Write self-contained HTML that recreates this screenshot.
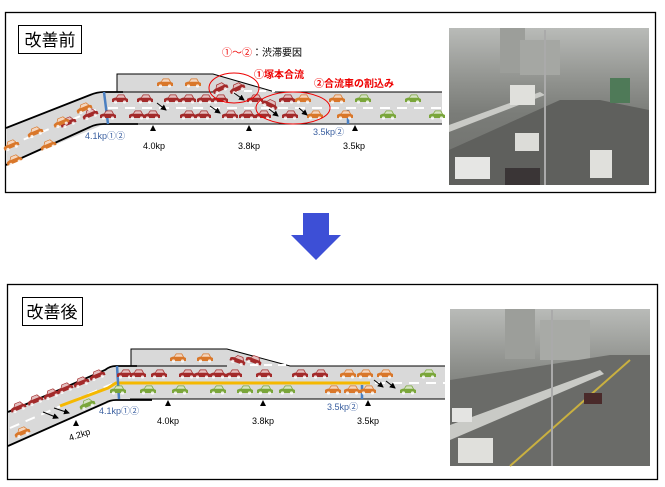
<!DOCTYPE html>
<html><head><meta charset="utf-8"><style>
body{margin:0;background:#fff;width:665px;height:487px;overflow:hidden}
svg{display:block}
text{font-family:"Liberation Sans","Noto Sans CJK JP",sans-serif}
</style></head><body>
<svg width="665" height="487" viewBox="0 0 665 487" xmlns="http://www.w3.org/2000/svg">
<defs>
<symbol id="c" viewBox="-8 -5 16 10" overflow="visible">
<path d="M-8 3 L-8 0 Q-7 -1 -4 -1.5 L-2 -4.5 L4 -4.5 L6 -1 L8 0 L8 3 Z"/>
<path d="M-1.5 -3.8 L3.5 -3.8 L5 -1.2 L-3.5 -1.2 Z" fill="#fff" opacity=".7"/>
<circle cx="-4.5" cy="3" r="1.6" fill="#fff" opacity=".8"/><circle cx="4.5" cy="3" r="1.6" fill="#fff" opacity=".8"/>
</symbol>
<linearGradient id="ph" x1="0" y1="0" x2="0" y2="1">
<stop offset="0" stop-color="#b9bbb8"/><stop offset=".35" stop-color="#8f918d"/><stop offset=".55" stop-color="#7a7c78"/><stop offset="1" stop-color="#6d6e6b"/></linearGradient>
<marker id="ah" markerWidth="6" markerHeight="6" refX="5" refY="3" orient="auto"><path d="M0 0 L6 3 L0 6Z" fill="#000"/></marker>
</defs>

<!-- TOP BOX -->
<rect x="5.5" y="12.5" width="650" height="180" fill="#fff" stroke="#000" stroke-width="1.3"/>
<rect x="18.5" y="25.5" width="63" height="28" fill="#fff" stroke="#000"/>
<text x="50" y="46" font-size="17" text-anchor="middle">改善前</text>

<!-- photo top -->
<rect x="449" y="28" width="200" height="157" fill="url(#ph)"/>
<rect x="500" y="28" width="25" height="45" fill="#9c9e9a"/><rect x="520" y="40" width="40" height="35" fill="#a5a7a3"/>
<polygon points="449,150 560,100 600,100 649,110 649,185 449,185" fill="#5f605d"/>
<polygon points="449,125 540,92 545,95 449,132" fill="#c9cac6"/>
<rect x="510" y="85" width="25" height="20" fill="#e0e0dc"/>
<rect x="455" y="157" width="35" height="22" fill="#e6e6e4"/><rect x="515" y="133" width="24" height="18" fill="#dcdcd8"/>
<rect x="590" y="150" width="22" height="28" fill="#e0e0dc"/><rect x="610" y="78" width="20" height="25" fill="#4f7a58"/>
<rect x="505" y="168" width="35" height="17" fill="#3a3536"/>
<line x1="545" y1="30" x2="545" y2="185" stroke="#aaa" stroke-width="2"/>

<!-- top road -->
<polygon points="117,74 213,74 275,92 442,92 442,124 138,124 105,124 6,165 6,128 100,92 117,92" fill="#d9d9d9"/>
<polyline points="117,92 117,74 213,74 275,92 442,92" fill="none" stroke="#000" stroke-width="1"/>
<line x1="117" y1="92" x2="213" y2="92" stroke="#000" stroke-width="1"/>
<path d="M6 128 L90 95 Q97 92 104 92 L123 92" fill="none" stroke="#000" stroke-width="1.8"/>
<path d="M6 165 L90 127 Q96 124 104 124 L138 124" fill="none" stroke="#000" stroke-width="1.8"/>
<line x1="117" y1="124" x2="442" y2="124" stroke="#000" stroke-width="1"/>
<line x1="108" y1="108" x2="442" y2="108" stroke="#fff" stroke-width="2" stroke-dasharray="10,7"/>
<line x1="8" y1="146" x2="100" y2="108" stroke="#fff" stroke-width="2" stroke-dasharray="10,7"/>
<line x1="230" y1="91" x2="275" y2="91" stroke="#fff" stroke-width="2" stroke-dasharray="8,6"/>
<line x1="104" y1="92" x2="108" y2="124" stroke="#4a7fc1" stroke-width="2.5"/>
<line x1="348" y1="110" x2="348" y2="124" stroke="#4a7fc1" stroke-width="2.5"/>

<g fill="#a32a2a">
<use href="#c" x="112" y="94" width="16" height="10"/><use href="#c" x="137" y="94" width="16" height="10"/><use href="#c" x="164" y="94" width="16" height="10"/><use href="#c" x="180" y="94" width="16" height="10"/><use href="#c" x="197" y="94" width="16" height="10"/><use href="#c" x="212" y="94" width="16" height="10"/><use href="#c" x="247" y="94" width="16" height="10"/><use href="#c" x="279" y="94" width="16" height="10"/>
<use href="#c" x="100" y="110" width="16" height="10"/><use href="#c" x="129" y="110" width="16" height="10"/><use href="#c" x="144" y="110" width="16" height="10"/><use href="#c" x="180" y="110" width="16" height="10"/><use href="#c" x="195" y="110" width="16" height="10"/><use href="#c" x="222" y="110" width="16" height="10"/><use href="#c" x="239" y="110" width="16" height="10"/><use href="#c" x="255" y="110" width="16" height="10"/><use href="#c" x="282" y="110" width="16" height="10"/>
<use href="#c" x="212" y="83" width="16" height="10" transform="rotate(-25 220 88)"/><use href="#c" x="229" y="83" width="16" height="10" transform="rotate(-25 237 88)"/><use href="#c" x="262" y="99" width="16" height="10" transform="rotate(25 270 104)"/>
<use href="#c" x="60" y="117" width="16" height="10" transform="rotate(-22 68 122)"/><use href="#c" x="82" y="109" width="16" height="10" transform="rotate(-22 90 114)"/>
</g>
<g fill="#d9772a">
<use href="#c" x="157" y="78" width="16" height="10"/><use href="#c" x="185" y="78" width="16" height="10"/>
<use href="#c" x="295" y="94" width="16" height="10"/><use href="#c" x="329" y="94" width="16" height="10"/>
<use href="#c" x="307" y="110" width="16" height="10"/><use href="#c" x="337" y="110" width="16" height="10"/>
<use href="#c" x="3" y="140" width="16" height="10" transform="rotate(-22 11 145)"/><use href="#c" x="27" y="127" width="16" height="10" transform="rotate(-22 35 132)"/><use href="#c" x="53" y="117" width="16" height="10" transform="rotate(-22 61 122)"/><use href="#c" x="76" y="103" width="16" height="10" transform="rotate(-22 84 108)"/>
<use href="#c" x="6" y="155" width="16" height="10" transform="rotate(-22 14 160)"/><use href="#c" x="40" y="140" width="16" height="10" transform="rotate(-22 48 145)"/>
</g>
<g fill="#7aa63a">
<use href="#c" x="355" y="94" width="16" height="10"/><use href="#c" x="405" y="94" width="16" height="10"/><use href="#c" x="380" y="110" width="16" height="10"/><use href="#c" x="429" y="110" width="16" height="10"/>
</g>
<g stroke="#000" stroke-width="1" marker-end="url(#ah)">
<line x1="157" y1="103" x2="166" y2="110"/><line x1="210" y1="106" x2="220" y2="113"/><line x1="234" y1="93" x2="244" y2="100"/><line x1="269" y1="109" x2="278" y2="116"/><line x1="299" y1="108" x2="307" y2="115"/>
</g>
<ellipse cx="234" cy="88" rx="25" ry="15" fill="none" stroke="#e00" stroke-width="1"/>
<ellipse cx="293" cy="108" rx="37" ry="16" fill="none" stroke="#e00" stroke-width="1"/>
<text x="222" y="56" font-size="10" fill="#e00">①～②<tspan fill="#000">：渋滞要因</tspan></text>
<text x="254" y="78" font-size="10" fill="#e00" font-weight="bold">①塚本合流</text>
<text x="314" y="87" font-size="10" fill="#e00" font-weight="bold">②合流車の割込み</text>
<g fill="#000"><path d="M150 131 L156 131 L153 125Z"/><path d="M246 131 L252 131 L249 125Z"/><path d="M352 131 L358 131 L355 125Z"/></g>
<text x="85" y="139" font-size="9" fill="#3a5fa0">4.1kp①②</text>
<text x="143" y="149" font-size="9">4.0kp</text><text x="238" y="149" font-size="9">3.8kp</text>
<text x="313" y="135" font-size="9" fill="#3a5fa0">3.5kp②</text><text x="343" y="149" font-size="9">3.5kp</text>

<!-- ARROW -->
<polygon points="303,213 329,213 329,235 341,235 316,260 291,235 303,235" fill="#3d4fd6"/>

<!-- BOTTOM BOX -->
<rect x="7.5" y="284.5" width="650" height="195" fill="#fff" stroke="#000" stroke-width="1.3"/>
<rect x="22.5" y="297.5" width="60" height="28" fill="#fff" stroke="#000"/>
<text x="52" y="318" font-size="17" text-anchor="middle">改善後</text>

<rect x="450" y="309" width="200" height="157" fill="url(#ph)"/>
<rect x="505" y="309" width="30" height="50" fill="#9c9e9a"/><rect x="540" y="320" width="50" height="40" fill="#a8aaa6"/>
<polygon points="450,380 610,355 650,355 650,466 450,466" fill="#6a6b68"/>
<polygon points="450,425 600,370 604,374 450,440" fill="#c9cac6"/>
<line x1="510" y1="466" x2="630" y2="360" stroke="#c9b040" stroke-width="2"/>
<rect x="458" y="438" width="35" height="25" fill="#e0e0dc"/><rect x="452" y="408" width="20" height="14" fill="#e4e4e2"/>
<rect x="584" y="393" width="18" height="11" fill="#4a2a2a"/>
<line x1="552" y1="310" x2="552" y2="466" stroke="#aaa" stroke-width="2"/>

<polygon points="131,349 227,349 290,366 445,366 445,399 152,399 115,400 8,446 8,412 116,366 131,366" fill="#d9d9d9"/>
<polyline points="131,366 131,349 227,349 290,366 445,366" fill="none" stroke="#000" stroke-width="1"/>
<line x1="131" y1="366" x2="227" y2="366" stroke="#000" stroke-width="1"/>
<path d="M8 412 L105 370 Q110 366 116 366 L137 366" fill="none" stroke="#000" stroke-width="1.8"/>
<path d="M8 446 L105 403 Q110 400 116 400 L152 400" fill="none" stroke="#000" stroke-width="1.8"/>
<line x1="130" y1="399" x2="445" y2="399" stroke="#000" stroke-width="1"/>
<line x1="120" y1="383" x2="445" y2="383" stroke="#fff" stroke-width="2" stroke-dasharray="10,7"/>
<line x1="10" y1="428" x2="112" y2="384" stroke="#fff" stroke-width="2" stroke-dasharray="10,7"/>
<line x1="250" y1="365" x2="290" y2="365" stroke="#fff" stroke-width="2" stroke-dasharray="8,6"/>
<polyline points="60,406 108,388 116,383 370,383" fill="none" stroke="#f5b800" stroke-width="3"/>
<line x1="117" y1="366" x2="119" y2="399" stroke="#4a7fc1" stroke-width="2.5"/>
<line x1="362" y1="385" x2="362" y2="399" stroke="#4a7fc1" stroke-width="2.5"/>

<g fill="#a32a2a">
<use href="#c" x="117" y="369" width="16" height="10"/><use href="#c" x="130" y="369" width="16" height="10"/><use href="#c" x="151" y="369" width="16" height="10"/><use href="#c" x="179" y="369" width="16" height="10"/><use href="#c" x="194" y="369" width="16" height="10"/><use href="#c" x="210" y="369" width="16" height="10"/><use href="#c" x="226" y="369" width="16" height="10"/><use href="#c" x="256" y="369" width="16" height="10"/><use href="#c" x="292" y="369" width="16" height="10"/><use href="#c" x="312" y="369" width="16" height="10"/>
<use href="#c" x="230" y="355" width="16" height="10" transform="rotate(20 238 360)"/><use href="#c" x="246" y="355" width="16" height="10" transform="rotate(20 254 360)"/>
<use href="#c" x="10" y="402" width="16" height="10" transform="rotate(-22 18 407)"/><use href="#c" x="27" y="395" width="16" height="10" transform="rotate(-22 35 400)"/><use href="#c" x="43" y="389" width="16" height="10" transform="rotate(-22 51 394)"/><use href="#c" x="57" y="383" width="16" height="10" transform="rotate(-22 65 388)"/><use href="#c" x="73" y="377" width="16" height="10" transform="rotate(-22 81 382)"/><use href="#c" x="89" y="370" width="16" height="10" transform="rotate(-22 97 375)"/>
</g>
<g fill="#d9772a">
<use href="#c" x="170" y="353" width="16" height="10"/><use href="#c" x="197" y="353" width="16" height="10"/>
<use href="#c" x="340" y="369" width="16" height="10"/><use href="#c" x="357" y="369" width="16" height="10"/><use href="#c" x="377" y="369" width="16" height="10"/>
<use href="#c" x="325" y="385" width="16" height="10"/><use href="#c" x="344" y="385" width="16" height="10"/><use href="#c" x="360" y="385" width="16" height="10"/>
<use href="#c" x="14" y="427" width="16" height="10" transform="rotate(-22 22 432)"/>
</g>
<g fill="#7aa63a">
<use href="#c" x="420" y="369" width="16" height="10"/>
<use href="#c" x="110" y="385" width="16" height="10"/><use href="#c" x="140" y="385" width="16" height="10"/><use href="#c" x="172" y="385" width="16" height="10"/><use href="#c" x="210" y="385" width="16" height="10"/><use href="#c" x="237" y="385" width="16" height="10"/><use href="#c" x="257" y="385" width="16" height="10"/><use href="#c" x="279" y="385" width="16" height="10"/><use href="#c" x="400" y="385" width="16" height="10"/>
<use href="#c" x="79" y="399" width="16" height="10" transform="rotate(-22 87 404)"/>
</g>
<g stroke="#000" stroke-width="1" marker-end="url(#ah)">
<line x1="43" y1="412" x2="58" y2="418"/><line x1="54" y1="408" x2="69" y2="413"/><line x1="374" y1="380" x2="383" y2="387"/><line x1="386" y1="381" x2="395" y2="388"/>
</g>
<g fill="#000"><path d="M73 426 L79 426 L76 420Z"/><path d="M165 406 L171 406 L168 400Z"/><path d="M260 406 L266 406 L263 400Z"/><path d="M365 406 L371 406 L368 400Z"/></g>
<text x="99" y="414" font-size="9" fill="#3a5fa0">4.1kp①②</text>
<text x="157" y="424" font-size="9">4.0kp</text><text x="252" y="424" font-size="9">3.8kp</text>
<text x="327" y="410" font-size="9" fill="#3a5fa0">3.5kp②</text><text x="357" y="424" font-size="9">3.5kp</text>
<text x="70" y="441" font-size="9" transform="rotate(-18 70 441)">4.2kp</text>
</svg>
</body></html>
